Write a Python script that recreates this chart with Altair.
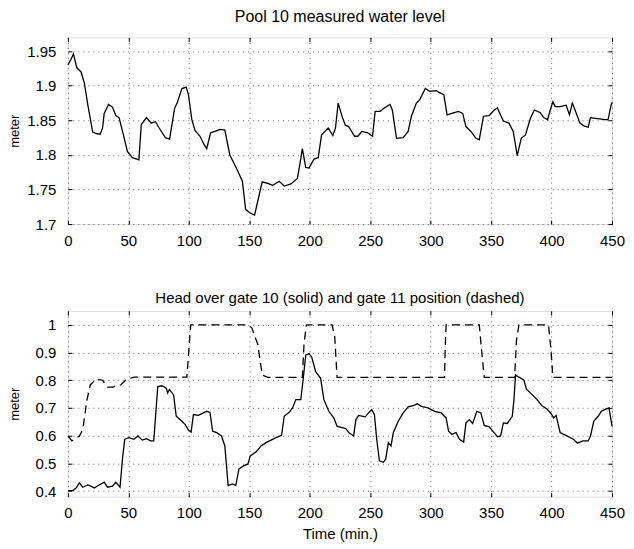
import altair as alt
import pandas as pd

# ---- data ----
t_level = [0, 2.5, 4.6, 7.4, 10.9, 13.6, 16.4, 20.5, 23.5, 26.7, 28.7, 30, 33.6, 36.9, 39.6, 42.3,
           45.9, 49.2, 53.3, 58.7, 60.7, 65, 68.9, 72.4, 75.1, 80.6, 84.1, 88.2, 90.7, 94.3, 97.8,
           99.7, 102.5, 105.2, 109.3, 112, 114.8, 118, 121.6, 125.7, 129.8, 133.9, 139.3, 144.3,
           147, 150.8, 154.4, 157, 160.7, 165.3, 169.4, 174.8, 178.9, 184.4, 189.8, 191.8, 193.9,
           196.7, 199.4, 203.5, 207, 209.8, 215.3, 219.1, 221.3, 223.5, 226.7, 229.5, 232.2, 237.1,
           239.8, 243.1, 248, 251.9, 254.1, 258.2, 261.7, 266.4, 268.3, 271.8, 277.3, 281.4, 284.1,
           288.2, 291, 295.6, 299.2, 304.6, 307.4, 310.9, 313.6, 317.5, 323, 326.5, 329.2, 333.3,
           337.4, 340.2, 343.7, 348.4, 352.5, 355.2, 360.1, 364.8, 368.3, 371.6, 374.9, 378.4,
           382.5, 385.8, 390.7, 393.5, 396.7, 398.9, 401.1, 403, 407.1, 412, 414.8, 417.2, 419.4,
           423.5, 426.7, 430.3, 432.2, 435.8, 439.9, 444, 446.7, 449.4, 450]
level = [1.930, 1.938, 1.946, 1.926, 1.920, 1.904, 1.873, 1.833, 1.831, 1.830, 1.839, 1.860, 1.873,
         1.869, 1.857, 1.854, 1.829, 1.805, 1.796, 1.793, 1.844, 1.854, 1.846, 1.848, 1.840, 1.825,
         1.823, 1.867, 1.877, 1.896, 1.898, 1.887, 1.851, 1.835, 1.827, 1.817, 1.809, 1.832, 1.834,
         1.837, 1.836, 1.800, 1.781, 1.762, 1.721, 1.716, 1.713, 1.733, 1.761, 1.759, 1.756, 1.762,
         1.755, 1.758, 1.766, 1.786, 1.809, 1.782, 1.781, 1.794, 1.796, 1.829, 1.839, 1.828, 1.839,
         1.875, 1.856, 1.843, 1.841, 1.827, 1.827, 1.834, 1.832, 1.827, 1.863, 1.863, 1.868, 1.873,
         1.865, 1.824, 1.825, 1.834, 1.856, 1.875, 1.880, 1.896, 1.892, 1.893, 1.890, 1.887, 1.858,
         1.860, 1.863, 1.860, 1.841, 1.834, 1.824, 1.822, 1.856, 1.857, 1.865, 1.868, 1.849, 1.846,
         1.834, 1.799, 1.824, 1.829, 1.853, 1.865, 1.861, 1.854, 1.851, 1.865, 1.877, 1.870, 1.870,
         1.872, 1.858, 1.875, 1.865, 1.846, 1.842, 1.840, 1.854, 1.853, 1.852, 1.851, 1.851, 1.873,
         1.876]

t_head = [0, 4.1, 6.8, 9.5, 12.3, 16.4, 19.1, 21.8, 25.1, 30, 32.8, 36.9, 39.6, 43.1, 45.1, 47,
          50.5, 54.6, 57.9, 61.5, 65, 68.3, 71, 74.3, 77.9, 81.4, 82.5, 84, 87.4, 89.6, 94.3, 97,
          99.7, 101.9, 103.8, 107.9, 112, 114.8, 117.5, 119.7, 123, 127, 129.8, 132.5, 136.1,
          138.8, 141.5, 145.3, 148.9, 150.8, 155.7, 159.8, 163.9, 168, 172.1, 176.7, 178.9, 183,
          185.8, 188.5, 192.6, 194.5, 196.7, 199.4, 201.6, 204.9, 209, 211.7, 215.8, 219.9, 222.6,
          226.7, 230, 232.2, 236.3, 238.2, 240.4, 245.9, 248.6, 251.3, 253.5, 255.4, 257.6, 260.9,
          262.8, 265, 267.2, 269.1, 273.2, 277.3, 281.4, 285.5, 289, 292.3, 297.8, 303.3, 308.7,
          312.8, 314.8, 317.5, 321, 323.8, 327.3, 329.2, 332, 334.7, 338.2, 341.5, 344.3, 348.4,
          352.5, 355.2, 357.9, 360.1, 363.4, 367.5, 368.9, 370.2, 373, 377.1, 379.2, 383.9, 388,
          392.1, 396.2, 399.5, 401.7, 403.8, 407.1, 412.6, 418.1, 421.4, 425.8, 430.3, 432.2,
          434.9, 438.5, 441.2, 444.8, 447.5, 450]
head = [0.402, 0.402, 0.411, 0.430, 0.414, 0.422, 0.418, 0.411, 0.420, 0.432, 0.414, 0.418, 0.432,
        0.414, 0.515, 0.587, 0.593, 0.587, 0.599, 0.584, 0.589, 0.581, 0.581, 0.777, 0.780, 0.771,
        0.754, 0.767, 0.747, 0.670, 0.652, 0.640, 0.620, 0.613, 0.676, 0.673, 0.682, 0.688, 0.684,
        0.616, 0.611, 0.599, 0.563, 0.420, 0.426, 0.420, 0.480, 0.491, 0.498, 0.527, 0.542, 0.563,
        0.575, 0.584, 0.593, 0.601, 0.670, 0.684, 0.700, 0.730, 0.730, 0.801, 0.890, 0.896, 0.884,
        0.831, 0.807, 0.730, 0.688, 0.664, 0.634, 0.629, 0.625, 0.611, 0.599, 0.658, 0.673, 0.668,
        0.682, 0.694, 0.676, 0.587, 0.509, 0.504, 0.515, 0.575, 0.563, 0.611, 0.652, 0.682, 0.704,
        0.708, 0.715, 0.706, 0.700, 0.688, 0.682, 0.664, 0.616, 0.605, 0.611, 0.587, 0.577, 0.646,
        0.658, 0.644, 0.688, 0.682, 0.637, 0.632, 0.611, 0.596, 0.599, 0.646, 0.644, 0.670, 0.730,
        0.819, 0.811, 0.801, 0.768, 0.748, 0.730, 0.708, 0.696, 0.680, 0.664, 0.673, 0.611, 0.599,
        0.587, 0.573, 0.581, 0.581, 0.599, 0.652, 0.670, 0.688, 0.696, 0.700, 0.634]

t_gate = [0, 3.3, 9.5, 12.3, 15.8, 18.5, 23.2, 28.7, 32.8, 36.9, 43.7, 47.8, 54.6, 98.4, 100,
          101.6, 149, 152, 157, 160.7, 165.3, 193.9, 195.3, 197.2, 218.5, 220.7, 222.6, 311.5,
          312, 312.8, 340.2, 342.1, 344.3, 369.4, 371, 373, 397.5, 399.5, 401.1, 450]
gate = [0.599, 0.581, 0.599, 0.622, 0.730, 0.783, 0.804, 0.800, 0.775, 0.775, 0.783, 0.801, 0.811,
        0.811, 0.908, 1.0, 1.0, 0.99, 0.93, 0.819, 0.81, 0.81, 0.932, 1.0, 1.0, 0.956, 0.81, 0.81,
        0.91, 1.0, 1.0, 0.91, 0.81, 0.81, 0.944, 1.0, 1.0, 0.91, 0.81, 0.81]

x_ticks = [0, 50, 100, 150, 200, 250, 300, 350, 400, 450]
y1_ticks = [1.7, 1.75, 1.8, 1.85, 1.9, 1.95]
y2_ticks = [0.4, 0.5, 0.6, 0.7, 0.8, 0.9, 1.0]

df_level = pd.DataFrame({"t": t_level, "v": level})
df_head = pd.DataFrame({"t": t_head, "v": head})
df_gate = pd.DataFrame({"t": t_gate, "v": gate})

FONT = "Liberation Sans"
W = 545
GRID = "#666"


def x_main(title):
    return alt.Axis(values=x_ticks, orient="bottom", title=title, grid=True, gridDash=[1, 4],
                    gridColor=GRID, gridOpacity=1, domain=False, ticks=True, tickSize=4,
                    offset=-4, tickColor="black", labelPadding=9, labelFontSize=15,
                    labelFont=FONT, labelColor="black", labelFlush=False, titleFontSize=15,
                    titleFont=FONT, titleFontWeight="normal", titleColor="black",
                    titlePadding=6)


def y_main(ticks, fmt):
    return alt.Axis(values=ticks, orient="left", format=fmt, title="meter", grid=True,
                    gridDash=[1, 4], gridColor=GRID, gridOpacity=1, domain=False, ticks=True,
                    tickSize=4, offset=-4, tickColor="black", labelPadding=12, labelFontSize=15,
                    labelFont=FONT, labelColor="black", labelFlush=False, minExtent=45,
                    maxExtent=45, titleFontSize=13, titleFont=FONT, titleFontWeight="normal",
                    titleColor="black", titlePadding=5)


def x_frame():
    return alt.Axis(values=x_ticks, orient="top", labels=False, domain=False, grid=False,
                    ticks=True, tickSize=4, offset=-4, tickColor="black", title=None)


def y_frame(ticks):
    return alt.Axis(values=ticks, orient="right", labels=False, domain=False, grid=False,
                    ticks=True, tickSize=4, offset=-4, tickColor="black", title=None)


xs = alt.Scale(domain=[0, 450], nice=False, zero=False)
ys1 = alt.Scale(domain=[1.7, 1.97], nice=False, zero=False)
ys2 = alt.Scale(domain=[0.38, 1.05], nice=False, zero=False)

top_line = alt.Chart(df_level).mark_line(color="black", strokeWidth=1.3).encode(
    x=alt.X("t:Q", scale=xs, axis=x_main(None)),
    y=alt.Y("v:Q", scale=ys1, axis=y_main(y1_ticks, ".2~f")),
)
top_frame = alt.Chart(df_level).mark_line(opacity=0).encode(
    x=alt.X("t:Q", scale=xs, axis=x_frame()),
    y=alt.Y("v:Q", scale=ys1, axis=y_frame(y1_ticks)),
)
top = alt.layer(top_line, top_frame).resolve_axis(x="independent", y="independent").properties(
    width=W, height=187,
    title=alt.TitleParams("Pool 10 measured water level", font=FONT, fontSize=16,
                          fontWeight="normal", color="black", offset=12),
)

bot_head = alt.Chart(df_head).mark_line(color="black", strokeWidth=1.3).encode(
    x=alt.X("t:Q", scale=xs, axis=x_main("Time (min.)")),
    y=alt.Y("v:Q", scale=ys2, axis=y_main(y2_ticks, ".1~f")),
)
bot_gate = alt.Chart(df_gate).mark_line(color="black", strokeWidth=1.3, strokeDash=[8, 5]).encode(
    x=alt.X("t:Q", scale=xs, axis=None),
    y=alt.Y("v:Q", scale=ys2, axis=None),
)
bot_frame = alt.Chart(df_head).mark_line(opacity=0).encode(
    x=alt.X("t:Q", scale=xs, axis=x_frame()),
    y=alt.Y("v:Q", scale=ys2, axis=y_frame(y2_ticks)),
)
bottom = alt.layer(bot_head, bot_gate, bot_frame).resolve_axis(
    x="independent", y="independent").properties(
    width=W, height=186,
    title=alt.TitleParams("Head over gate 10 (solid) and gate 11 position (dashed)", font=FONT,
                          fontSize=15, fontWeight="normal", color="black", offset=4),
)

chart = alt.vconcat(top, bottom, spacing=42).properties(padding=0).configure_view(
    stroke="black", strokeWidth=1
).configure(background="white")

chart.save("out.html", embed_options={"renderer": "svg", "actions": False})
